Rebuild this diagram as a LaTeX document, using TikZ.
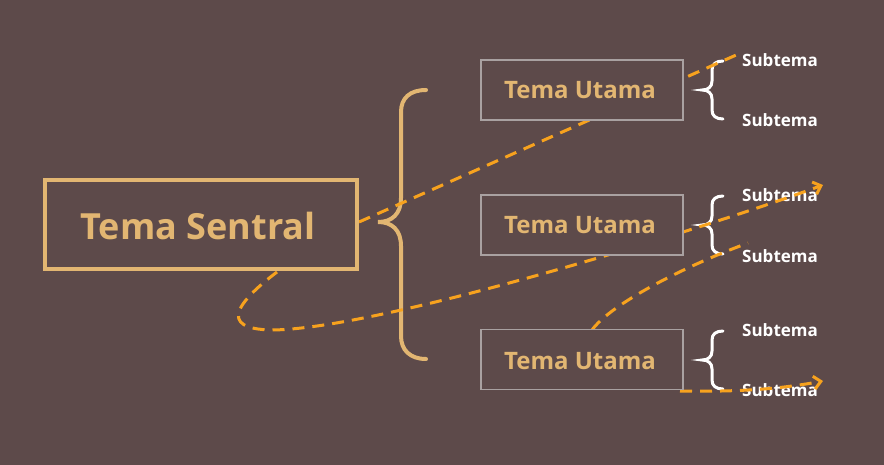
\documentclass[tikz,border=0pt]{standalone}
\usepackage{fontspec}
\setmainfont{Open Sans}
\usetikzlibrary{arrows.meta}
\definecolor{bg}{HTML}{5D4A4A}
\definecolor{tan}{HTML}{E2B672}
\definecolor{boxgray}{HTML}{A9A1A1}
\definecolor{flow}{HTML}{F7A21E}
\begin{document}
\begin{tikzpicture}[x=1pt,y=-1pt,
  centralbox/.style={draw=tan, line width=4pt, fill=bg, minimum width=312pt, minimum height=89pt, inner sep=0pt},
  mainbox/.style={draw=boxgray, line width=1.5pt, fill=bg, minimum width=202pt, minimum height=60pt, inner sep=0pt},
  centraltext/.style={text=tan, font=\bfseries\fontsize{36}{40}\selectfont, anchor=base, inner sep=0pt},
  maintext/.style={text=tan, font=\bfseries\fontsize{24}{28}\selectfont, anchor=base, inner sep=0pt},
  subtext/.style={text=white, font=\bfseries\fontsize{17}{20}\selectfont, anchor=base west, inner sep=0pt},
  bigbrace/.style={draw=tan, line width=4pt, line cap=round},
  flowline/.style={draw=flow, line width=3pt, dash pattern=on 12pt off 8pt},
  flowarrow/.style={flowline, -{Straight Barb[length=7pt,width=13pt,line width=3pt]}},
  smallbrace/.pic={
    \draw[white, line width=3pt, line cap=round]
      (21,-29) .. controls (14,-29) and (10,-26) .. (10,-20) -- (10,-9)
      .. controls (10,-3) and (6,0) .. (0,0)
      .. controls (6,0) and (10,3) .. (10,9) -- (10,20)
      .. controls (10,26) and (14,29) .. (21,29);
  }]
\fill[bg] (0,0) rectangle (884,465);
\useasboundingbox (0,0) rectangle (884,465);

% big brace
\draw[bigbrace] (426,90) .. controls (410,90) and (401,98) .. (401,112) -- (401,198)
  .. controls (401,214) and (392,222) .. (378,222)
  .. controls (392,222) and (401,230) .. (401,246) -- (401,336)
  .. controls (401,350) and (410,359) .. (426,359);

% small braces
\pic at (702,90) {smallbrace};
\pic at (702,225) {smallbrace};
\pic at (702,360) {smallbrace};

% subtopics
\node[subtext] (s11) at (742,67) {Subtema};
\node[subtext] (s12) at (742,127) {Subtema};
\node[subtext] (s21) at (742,202) {Subtema};
\node[subtext] (s22) at (742,262) {Subtema};
\node[subtext] (s31) at (742,336) {Subtema};
\node[subtext] (s32) at (742,396) {Subtema};

% flow coordinates
\coordinate (f1a) at (359,222);
\coordinate (f1b) at (743,52);
\coordinate (f2a) at (277,272);
\coordinate (f2m) at (272,330);
\coordinate (f2b) at (823,185);
\coordinate (f3a) at (592,330);
\coordinate (f3b) at (748,243);
\coordinate (f4a) at (680,391);
\coordinate (f4b) at (823,381);

% dashed flow lines
\draw[flowline] (f1a) -- (f1b);
\draw[flowarrow] (f2a) .. controls (240,300) and (215,329) .. (f2m)
  .. controls (380,329) and (700,230) .. (f2b);
\draw[flowline] (f3a) .. controls (610,305) and (680,268) .. (f3b);
\draw[flowarrow] (f4a) .. controls (740,392) and (780,389) .. (f4b);

% boxes
\node[centralbox] (central) at (201,224.5) {};
\node[centraltext] (centraltitle) at (198,240) {Tema Sentral};
\node[mainbox] (m1) at (582,90) {};
\node[mainbox] (m2) at (582,225) {};
\node[mainbox] (m3) at (582,359.5) {};
\node[maintext] (m1t) at (580,99) {Tema Utama};
\node[maintext] (m2t) at (580,234) {Tema Utama};
\node[maintext] (m3t) at (580,369) {Tema Utama};
\end{tikzpicture}
\end{document}
